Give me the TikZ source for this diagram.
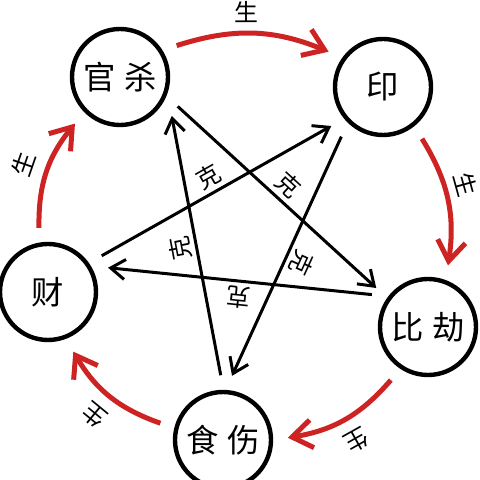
\documentclass[tikz,border=0pt]{standalone}
\usepackage{fontspec}
\setmainfont{Noto Sans CJK SC}
\usepackage{xcolor}
\usepackage{tikz}
\usetikzlibrary{arrows.meta}
\definecolor{shred}{RGB}{205,35,35}

\begin{document}
\begin{tikzpicture}[x=0.25mm,y=0.25mm,font=\fontsize{17}{17}\selectfont,
 c/.style={draw,circle,line width=1.1mm,minimum size=24mm,inner sep=0pt,outer sep=4.2mm,font=\fontsize{23}{23}\selectfont},
 sh/.style={-{Straight Barb[length=5mm,width=7mm]},line width=1.25mm,shred,bend left=20},
 ke/.style={-{Straight Barb[length=3.6mm,width=5mm]},line width=0.75mm},
 l/.style={midway,sloped,allow upside down,inner sep=1pt,text=black}]
\useasboundingbox (0,0) rectangle (480,480);
\clip (0,0) rectangle (480,480);
\node[c] (gs) at (120,403) {官\hspace{.25em}杀};
\node[c] (yin) at (383,393) {印};
\node[c] (bj) at (428,153) {比\hspace{.25em}劫};
\node[c] (ss) at (223,40) {食\hspace{.25em}伤};
\node[c] (cai) at (48,188) {财};
% sheng
\draw[sh] (gs.29) to node[l,pos=.45,above=1.8mm] {生} (yin.147);
\draw[sh] (yin.-53) to node[l,pos=.42,above=1.6mm] {生} (bj.72);
\draw[sh] (bj.-125) to node[l,above=2.5mm] {生} (ss.2);
\draw[sh] (ss.165) to node[l,above=2.5mm] {生} (cai.-67);
\draw[sh] (cai.98) to node[l,above=2.5mm] {生} (gs.-134);
% ke
\draw[ke] (cai.34) -- node[l,above=0.6mm] {克} (yin.217);
\draw[ke] (yin.230) -- node[l,above=0.6mm] {克} (ss.82);
\draw[ke] (ss.92) -- node[l,above=0.6mm] {克} (gs.-37);
\draw[ke] (gs.-27) -- node[l,above=0.6mm] {克} (bj.143);
\draw[ke] (bj.150) -- node[l,above=0.6mm] {克} (cai.22);
\end{tikzpicture}
\end{document}
